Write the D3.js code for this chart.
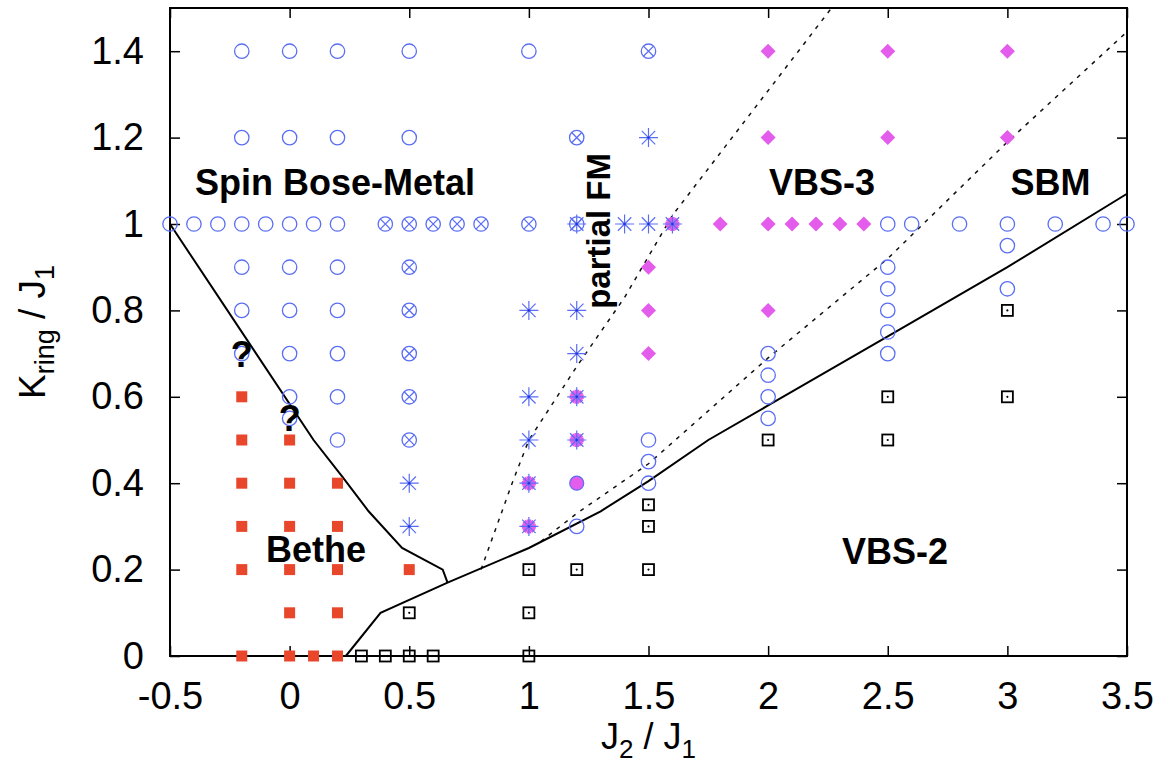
<!DOCTYPE html>
<html lang="en">
<head>
  <meta charset="utf-8">
  <title>Phase diagram J2/J1 vs Kring/J1</title>
  <script src="https://d3js.org/d3.v7.min.js"></script>
  <style>
    body { margin: 0; background: #fff; }
    text { font-family: "Liberation Sans", Arial, Helvetica, sans-serif; }
    .region { font-weight: bold; font-size: 36px; fill: #000; }
    .frame { fill: none; stroke: #000; stroke-width: 2; }
    .phase-line { fill: none; stroke: #000; stroke-width: 2; }
    .dot-line { fill: none; stroke: #111; stroke-width: 1.5; stroke-dasharray: 4,6; }
  </style>
</head>
<body>
<svg id="chart" width="1164" height="764"></svg>
<script>
  // tick values and labels
  const xTicks = [-0.5, 0, 0.5, 1, 1.5, 2, 2.5, 3, 3.5];
  const xTickLabels = ["-0.5", "0", "0.5", "1", "1.5", "2", "2.5", "3", "3.5"];
  const yTicks = [0, 0.2, 0.4, 0.6, 0.8, 1, 1.2, 1.4];
  const yTickLabels = ["0", "0.2", "0.4", "0.6", "0.8", "1", "1.2", "1.4"];

  // blue open circles (spin Bose-metal)
  const sbmPoints = [
    [-0.2, 1.4], [0, 1.4], [0.2, 1.4], [0.5, 1.4], [1.0, 1.4],
    [-0.2, 1.2], [0, 1.2], [0.2, 1.2], [0.5, 1.2],
    [-0.5, 1.0], [-0.4, 1.0], [-0.3, 1.0], [-0.2, 1.0], [-0.1, 1.0], [0, 1.0], [0.1, 1.0], [0.2, 1.0],
    [2.5, 1.0], [2.6, 1.0], [2.8, 1.0], [3.0, 1.0], [3.2, 1.0], [3.4, 1.0], [3.5, 1.0],
    [-0.2, 0.9], [0, 0.9], [0.2, 0.9],
    [-0.2, 0.8], [0, 0.8], [0.2, 0.8],
    [-0.2, 0.7], [0, 0.7], [0.2, 0.7],
    [0, 0.6], [0.2, 0.6], [0, 0.55], [0.2, 0.5],
    [1.5, 0.5], [1.5, 0.45], [1.5, 0.4], [1.2, 0.3],
    [2.0, 0.7], [2.0, 0.65], [2.0, 0.6], [2.0, 0.55],
    [2.5, 0.9], [2.5, 0.85], [2.5, 0.8], [2.5, 0.75], [2.5, 0.7],
    [3.0, 0.95], [3.0, 0.85]
  ];

  // crossed circles
  const crossedPoints = [
    [1.5, 1.4], [1.2, 1.2],
    [0.4, 1.0], [0.5, 1.0], [0.6, 1.0], [0.7, 1.0], [0.8, 1.0], [1.0, 1.0], [1.2, 1.0],
    [0.5, 0.9], [0.5, 0.8], [0.5, 0.7], [0.5, 0.6], [0.5, 0.5]
  ];

  // asterisks (partial FM)
  const fmPoints = [
    [1.5, 1.2], [1.2, 1.0], [1.4, 1.0], [1.5, 1.0], [1.6, 1.0],
    [1.0, 0.8], [1.2, 0.8], [1.2, 0.7],
    [1.0, 0.6], [1.2, 0.6], [1.0, 0.5], [1.2, 0.5],
    [1.0, 0.4], [1.0, 0.3], [0.5, 0.4], [0.5, 0.3]
  ];
  // pink marks lying under some asterisks
  const fmPinkPoints = [[1.6, 1.0], [1.2, 0.6], [1.2, 0.5], [1.0, 0.4], [1.0, 0.3]];
  const pinkDotPoints = [[1.2, 0.4]];

  // pink diamonds (VBS-3)
  const vbs3Points = [
    [2.0, 1.4], [2.5, 1.4], [3.0, 1.4],
    [2.0, 1.2], [2.5, 1.2], [3.0, 1.2],
    [1.8, 1.0], [2.0, 1.0], [2.1, 1.0], [2.2, 1.0], [2.3, 1.0], [2.4, 1.0],
    [1.5, 0.9], [1.5, 0.8], [1.5, 0.7], [2.0, 0.8]
  ];

  // red filled squares (Bethe)
  const bethePoints = [
    [-0.2, 0.6], [-0.2, 0.5], [-0.2, 0.4], [-0.2, 0.3], [-0.2, 0.2], [-0.2, 0.0],
    [0, 0.5], [0, 0.4], [0, 0.3], [0, 0.2], [0, 0.1], [0, 0.0],
    [0.1, 0.0],
    [0.2, 0.4], [0.2, 0.3], [0.2, 0.2], [0.2, 0.1], [0.2, 0.0],
    [0.5, 0.2]
  ];

  // black open squares (VBS-2)
  const vbs2Points = [
    [0.3, 0.0], [0.4, 0.0], [0.5, 0.0], [0.6, 0.0], [1.0, 0.0],
    [0.5, 0.1], [1.0, 0.2], [1.0, 0.1], [1.2, 0.2],
    [1.5, 0.35], [1.5, 0.3], [1.5, 0.2],
    [2.0, 0.5], [2.5, 0.6], [2.5, 0.5], [3.0, 0.8], [3.0, 0.6]
  ];

  // phase boundaries
  const upperBoundary = [[-0.5, 1.0], [0.1, 0.5], [0.22, 0.415], [0.33, 0.335], [0.47, 0.25], [0.64, 0.2], [0.66, 0.17]];
  const lowerBoundary = [[0.235, 0.0], [0.38, 0.1], [0.66, 0.17], [1.0, 0.25], [1.3, 0.335], [1.5, 0.405],
                         [1.75, 0.5], [2.0, 0.58], [2.5, 0.74], [3.0, 0.9], [3.5, 1.07]];
  const dottedFM = [[0.8, 0.2], [0.93, 0.4], [1.0, 0.5], [1.2, 0.67], [1.4, 0.83], [1.6, 1.02], [2.265, 1.5]];
  const dottedVBS = [[1.05, 0.265], [1.2, 0.33], [1.5, 0.445], [2.0, 0.69], [2.5, 0.92], [3.0, 1.19], [3.5, 1.445]];

  // region labels
  const regionLabels = [
    { text: "Spin Bose-Metal", x: 0.19, y: 1.068 },
    { text: "VBS-3", x: 2.225, y: 1.068 },
    { text: "SBM", x: 3.18, y: 1.068 },
    { text: "Bethe", x: 0.11, y: 0.218 },
    { text: "VBS-2", x: 2.53, y: 0.213 }
  ];
  const questionMarks = [[-0.2, 0.67], [0, 0.52]];

  const blue = "#5a6ef5", pink = "#e35ceb", red = "#e8472c";

  const svg = d3.select("#chart");
  const margin = { left: 170, right: 37, top: 8, bottom: 108 };
  const width = 1164, height = 764;

  const x = d3.scaleLinear().domain([-0.5, 3.5]).range([margin.left, width - margin.right]);
  const y = d3.scaleLinear().domain([0, 1.5]).range([height - margin.bottom, margin.top]);

  // axes with inward ticks
  const axisFont = g => g.attr("font-size", 38).attr("font-family", "Liberation Sans, Arial, sans-serif")
    .call(g => g.select(".domain").remove())
    .call(g => g.selectAll(".tick line").attr("stroke", "#000").attr("stroke-width", 1.5));

  svg.append("g")
    .attr("transform", `translate(0,${y(0)})`)
    .call(d3.axisBottom(x).tickValues(xTicks).tickFormat((d, i) => xTickLabels[i]).tickSize(-10).tickPadding(26))
    .call(axisFont);
  svg.append("g")
    .attr("transform", `translate(0,${y(1.5)})`)
    .call(d3.axisTop(x).tickValues(xTicks).tickFormat("").tickSize(-10))
    .call(axisFont);
  svg.append("g")
    .attr("transform", `translate(${x(-0.5)},0)`)
    .call(d3.axisLeft(y).tickValues(yTicks).tickFormat((d, i) => yTickLabels[i]).tickSize(-10).tickPadding(26))
    .call(axisFont);
  svg.append("g")
    .attr("transform", `translate(${x(3.5)},0)`)
    .call(d3.axisRight(y).tickValues(yTicks).tickFormat("").tickSize(-10))
    .call(axisFont);

  svg.append("rect").attr("class", "frame")
    .attr("x", x(-0.5)).attr("y", y(1.5))
    .attr("width", x(3.5) - x(-0.5)).attr("height", y(0) - y(1.5));

  // axis titles
  const xt = svg.append("text")
    .attr("x", (x(-0.5) + x(3.5)) / 2).attr("y", 749)
    .attr("text-anchor", "middle").attr("font-size", 36);
  xt.append("tspan").text("J");
  xt.append("tspan").attr("font-size", 26).attr("dy", 9).text("2");
  xt.append("tspan").attr("dy", -9).text(" / J");
  xt.append("tspan").attr("font-size", 26).attr("dy", 9).text("1");

  const yt = svg.append("text")
    .attr("transform", `translate(45,${(y(0) + y(1.5)) / 2}) rotate(-90)`)
    .attr("text-anchor", "middle").attr("font-size", 37);
  yt.append("tspan").text("K");
  yt.append("tspan").attr("font-size", 27).attr("dy", 9).text("ring");
  yt.append("tspan").attr("dy", -9).text(" / J");
  yt.append("tspan").attr("font-size", 27).attr("dy", 9).text("1");

  // boundary lines
  const line = d3.line().x(d => x(d[0])).y(d => y(d[1]));
  svg.append("path").attr("class", "dot-line").attr("d", line(dottedFM));
  svg.append("path").attr("class", "dot-line").attr("d", line(dottedVBS));
  svg.append("path").attr("class", "phase-line").attr("d", line(upperBoundary));
  svg.append("path").attr("class", "phase-line").attr("d", line(lowerBoundary));

  // marker shapes
  function asterisk(r) {
    const p = d3.path();
    const s = r * Math.SQRT1_2;
    p.moveTo(-r, 0); p.lineTo(r, 0);
    p.moveTo(0, -r); p.lineTo(0, r);
    p.moveTo(-s, -s); p.lineTo(s, s);
    p.moveTo(-s, s); p.lineTo(s, -s);
    return p.toString();
  }
  function cross(r) {
    const s = r * Math.SQRT1_2;
    return `M${-s},${-s}L${s},${s}M${-s},${s}L${s},${-s}`;
  }
  const pos = d => `translate(${x(d[0])},${y(d[1])})`;

  // black open squares
  const sq = svg.append("g");
  sq.selectAll("rect").data(vbs2Points).enter().append("rect")
    .attr("x", d => x(d[0]) - 5.5).attr("y", d => y(d[1]) - 5.5)
    .attr("width", 11).attr("height", 11)
    .attr("fill", "none").attr("stroke", "#000").attr("stroke-width", 1.8);
  sq.selectAll("circle").data(vbs2Points).enter().append("circle")
    .attr("cx", d => x(d[0])).attr("cy", d => y(d[1])).attr("r", 1.1).attr("fill", "#000");

  // red squares
  svg.append("g").selectAll("rect").data(bethePoints).enter().append("rect")
    .attr("x", d => x(d[0]) - 5.5).attr("y", d => y(d[1]) - 5.5)
    .attr("width", 11).attr("height", 11).attr("fill", red);

  // pink diamonds
  svg.append("g").selectAll("path").data(vbs3Points).enter().append("path")
    .attr("transform", pos)
    .attr("d", "M0,-7.5L7.5,0L0,7.5L-7.5,0Z").attr("fill", pink);

  // pink under asterisks
  svg.append("g").selectAll("path").data(fmPinkPoints).enter().append("path")
    .attr("transform", pos).attr("d", asterisk(7))
    .attr("stroke", pink).attr("stroke-width", 4.5).attr("fill", "none");
  svg.append("g").selectAll("circle").data(pinkDotPoints).enter().append("circle")
    .attr("cx", d => x(d[0])).attr("cy", d => y(d[1])).attr("r", 7)
    .attr("fill", pink).attr("stroke", blue).attr("stroke-width", 1.2);

  // blue circles
  svg.append("g").selectAll("circle").data(sbmPoints).enter().append("circle")
    .attr("cx", d => x(d[0])).attr("cy", d => y(d[1])).attr("r", 7.2)
    .attr("fill", "none").attr("stroke", blue).attr("stroke-width", 1.3);

  // crossed circles
  const cc = svg.append("g").selectAll("g").data(crossedPoints).enter().append("g").attr("transform", pos);
  cc.append("circle").attr("r", 7.2).attr("fill", "none").attr("stroke", blue).attr("stroke-width", 1.3);
  cc.append("path").attr("d", cross(7.2)).attr("stroke", blue).attr("stroke-width", 1.3);

  // asterisks
  const ast = svg.append("g").selectAll("g").data(fmPoints).enter().append("g").attr("transform", pos);
  ast.append("path").attr("d", asterisk(9.5)).attr("stroke", blue).attr("stroke-width", 1.2).attr("fill", "none");
  ast.append("circle").attr("r", 1.2).attr("fill", "#2233dd");

  // labels
  svg.append("g").selectAll("text").data(regionLabels).enter().append("text")
    .attr("class", "region").attr("text-anchor", "middle")
    .attr("x", d => x(d.x)).attr("y", d => y(d.y)).text(d => d.text);

  svg.append("text").attr("class", "region").attr("text-anchor", "middle")
    .attr("transform", `translate(${x(1.337)},${y(0.984)}) rotate(-90)`)
    .style("font-size", "33px")
    .text("partial FM");

  svg.append("g").selectAll("text").data(questionMarks).enter().append("text")
    .attr("class", "region").attr("text-anchor", "middle")
    .attr("x", d => x(d[0])).attr("y", d => y(d[1])).text("?");
</script>
</body>
</html>
